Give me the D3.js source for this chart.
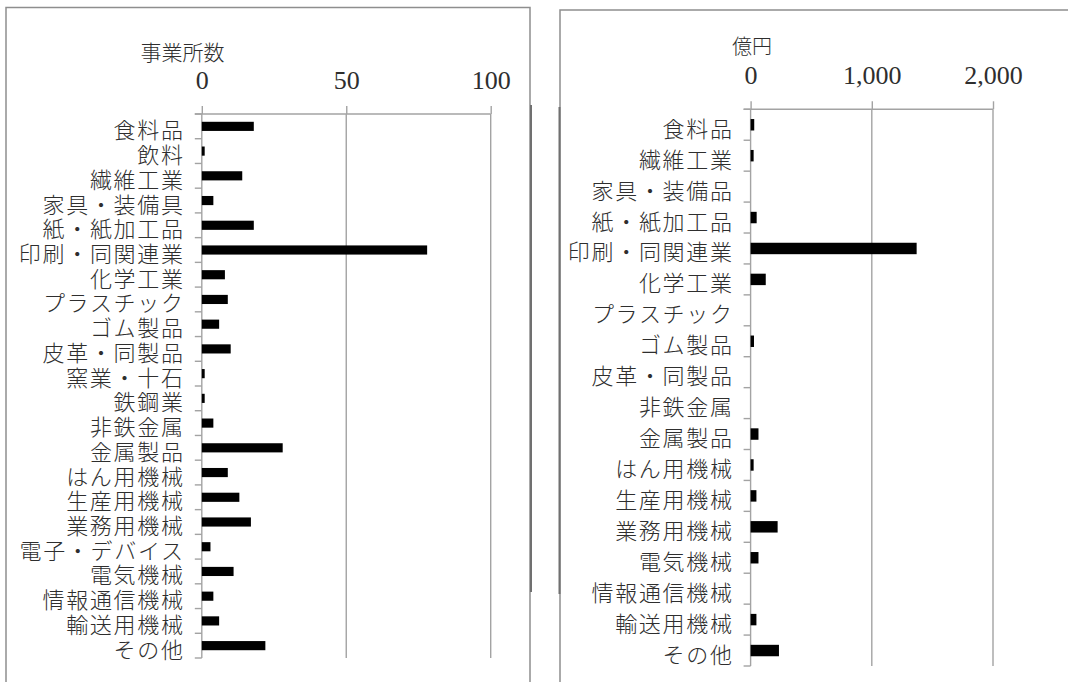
<!DOCTYPE html>
<html>
<head>
<meta charset="utf-8">
<script src="https://cdn.jsdelivr.net/npm/d3@7"></script>
<style>
  html, body { margin: 0; padding: 0; background: #fff; }
  svg { display: block; }
</style>
</head>
<body>
<div id="chart"></div>
<script>
// 事業所数（左パネル）
const establishmentCategories = [
  "食料品", "飲料", "繊維工業", "家具・装備具", "紙・紙加工品", "印刷・同関連業",
  "化学工業", "プラスチック", "ゴム製品", "皮革・同製品", "窯業・十石", "鉄鋼業",
  "非鉄金属", "金属製品", "はん用機械", "生産用機械", "業務用機械", "電子・デバイス",
  "電気機械", "情報通信機械", "輸送用機械", "その他"
];
const establishmentCounts = [18, 1, 14, 4, 18, 78, 8, 9, 6, 10, 1, 1, 4, 28, 9, 13, 17, 3, 11, 4, 6, 22];
const establishmentTicks = [0, 50, 100];

// 金額・億円（右パネル）
const amountCategories = [
  "食料品", "繊維工業", "家具・装備品", "紙・紙加工品", "印刷・同関連業", "化学工業",
  "プラスチック", "ゴム製品", "皮革・同製品", "非鉄金属", "金属製品", "はん用機械",
  "生産用機械", "業務用機械", "電気機械", "情報通信機械", "輸送用機械", "その他"
];
const amountValues = [30, 25, 0, 50, 1370, 125, 0, 28, 0, 0, 65, 25, 48, 223, 65, 0, 48, 234];
const amountTicks = [0, 1000, 2000];

const W = 1068, H = 682;
const svg = d3.select("#chart").append("svg")
  .attr("width", W).attr("height", H)
  .attr("viewBox", `0 0 ${W} ${H}`);
svg.append("rect").attr("width", W).attr("height", H).attr("fill", "#fff");

const JP = "'Noto Sans CJK JP', 'Noto Sans', sans-serif";
const SERIF = "'Liberation Serif', 'DejaVu Serif', serif";
const GRID = "#a3a3a3";
const TEXT = "#2e2e2e";
const LABEL_SPACING = 1.7;

function drawPanel(p) {
  const g = svg.append("g");

  // chart frame
  g.append("rect")
    .attr("x", p.frame.x).attr("y", p.frame.y)
    .attr("width", p.frame.w).attr("height", p.frame.h)
    .attr("fill", "none").attr("stroke", "#8e8e8e").attr("stroke-width", 1.5);
  if (p.frameShade) {
    g.append("line")
      .attr("x1", p.frameShade.x).attr("x2", p.frameShade.x)
      .attr("y1", p.frameShade.y1).attr("y2", p.frameShade.y2)
      .attr("stroke", "#707070").attr("stroke-width", 2);
  }

  const x = d3.scaleLinear().domain([0, p.max]).range(p.xRange);
  const y = d3.scaleBand().domain(p.categories).range(p.yRange)
    .paddingInner(0.63).paddingOuter(0.315);
  const top = p.yRange[0], bottom = p.yRange[1];
  const x0 = x(0);

  // value gridlines
  g.append("g").selectAll("line").data(p.ticks).join("line")
    .attr("x1", d => x(d)).attr("x2", d => x(d))
    .attr("y1", top).attr("y2", bottom)
    .attr("stroke", GRID).attr("stroke-width", 1.4);

  // value axis along the top, ticks pointing up
  const axis = d3.axisTop(x).tickValues(p.ticks)
    .tickSize(8).tickPadding(17).tickFormat(d3.format(","));
  const ax = g.append("g").attr("transform", `translate(0,${top})`).call(axis);
  ax.select(".domain").remove();
  ax.selectAll(".tick line").attr("stroke", GRID).attr("stroke-width", 1.4);
  ax.selectAll(".tick text")
    .attr("fill", TEXT)
    .style("font-family", SERIF).style("font-size", "26px");

  // top axis line, including the small overhang of the category tick
  g.append("line")
    .attr("x1", x0 - 7).attr("x2", x(p.max))
    .attr("y1", top).attr("y2", top)
    .attr("stroke", GRID).attr("stroke-width", 1.4);

  // category ticks on band boundaries
  const bounds = d3.range(p.categories.length + 1).map(i => top + i * y.step());
  g.append("g").selectAll("line").data(bounds).join("line")
    .attr("x1", x0 - 7).attr("x2", x0)
    .attr("y1", d => d).attr("y2", d => d)
    .attr("stroke", GRID).attr("stroke-width", 1.4);

  // bars
  g.append("g").selectAll("rect").data(p.categories).join("rect")
    .attr("x", x0)
    .attr("y", d => y(d))
    .attr("width", (d, i) => x(p.values[i]) - x0)
    .attr("height", y.bandwidth())
    .attr("fill", "#000");

  // category labels (slightly tracked so the glyphs stay wide but short)
  g.append("g").selectAll("text").data(p.categories).join("text")
    .attr("x", p.labelX + LABEL_SPACING)
    .attr("y", d => y(d) + y.bandwidth() / 2 + 2)
    .attr("text-anchor", "end")
    .attr("dominant-baseline", "central")
    .attr("fill", TEXT)
    .style("font-family", JP).style("font-size", "22px")
    .style("font-weight", 300)
    .style("letter-spacing", LABEL_SPACING + "px")
    .text(d => d);

  // unit title
  g.append("text")
    .attr("x", p.titleX).attr("y", p.titleY)
    .attr("text-anchor", "middle")
    .attr("dominant-baseline", "central")
    .attr("fill", TEXT)
    .style("font-family", JP).style("font-size", p.titleSize + "px")
    .style("font-weight", 300)
    .text(p.title);
}

drawPanel({
  frame: { x: 6, y: 7.5, w: 524, h: 720 },
  frameShade: { x: 531, y1: 105, y2: 592 },
  categories: establishmentCategories,
  values: establishmentCounts,
  ticks: establishmentTicks,
  max: 100,
  xRange: [201.8, 490.7],
  yRange: [114, 658],
  labelX: 183,
  title: "事業所数",
  titleX: 182.5, titleY: 51, titleSize: 21
});

drawPanel({
  frame: { x: 560, y: 10, w: 600, h: 720 },
  frameShade: { x: 559.5, y1: 107, y2: 594 },
  categories: amountCategories,
  values: amountValues,
  ticks: amountTicks,
  max: 2000,
  xRange: [750.6, 993],
  yRange: [109.3, 666],
  labelX: 732,
  title: "億円",
  titleX: 752, titleY: 45, titleSize: 20
});
</script>
</body>
</html>
